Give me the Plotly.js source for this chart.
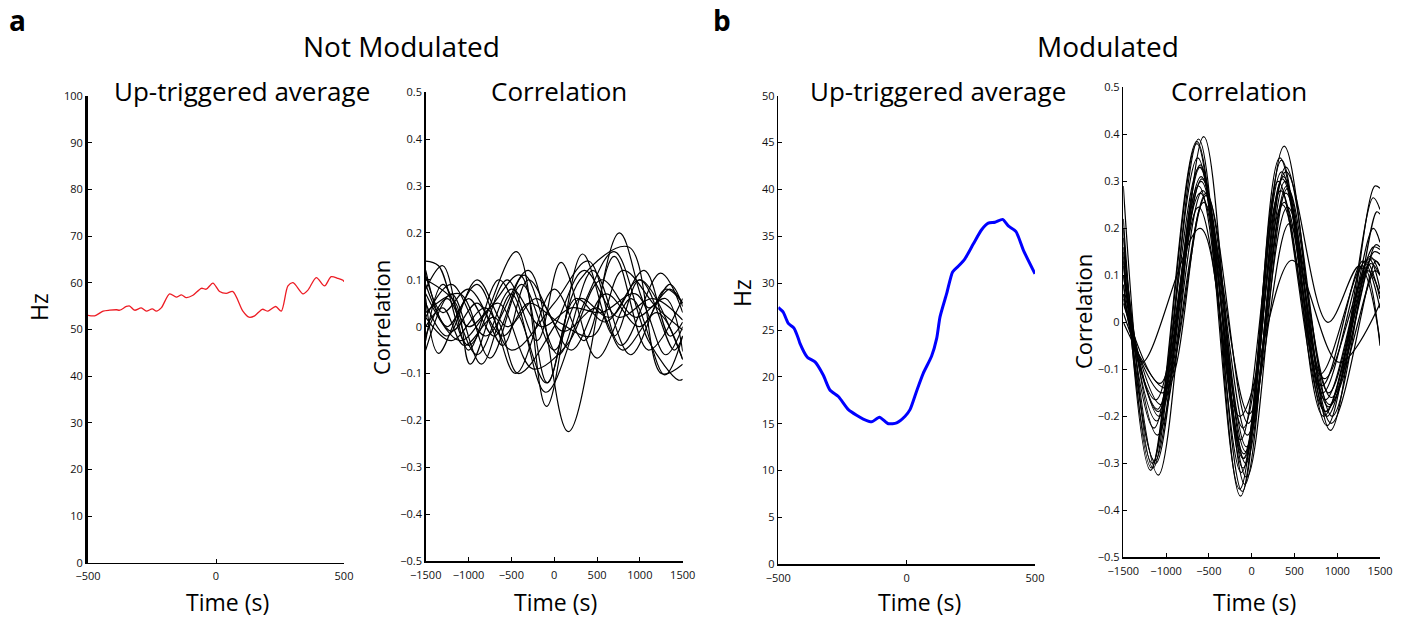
<!DOCTYPE html>
<html>
<head>
<meta charset="utf-8">
<script src="https://cdn.plot.ly/plotly-3.0.1.min.js"></script>
<style>html,body{margin:0;padding:0;background:#fff}#chart{width:1411px;height:619px}</style>
</head>
<body>
<div id="chart"></div>
<script>
// ---- Panel a, left: Up-triggered average (Not Modulated) ----
const upTimeA = [-500,-474,-441,-415,-389,-376,-350,-337,-318,-292,-272,-249,-233,-214,-181,-155,-135,-116,-90,-57,-38,-12,14,40,66,105,129,151,181,203,233,255,281,301,340,359,392,424,450,477,496,500];
const upHzA = [53.0,52.9,53.9,54.1,54.2,54.1,54.9,55.0,54.1,54.6,53.9,54.4,53.9,54.6,57.6,56.9,57.4,56.8,57.3,58.8,58.6,59.9,58.1,57.7,58.1,53.9,52.6,52.9,54.3,53.9,54.9,53.9,59.3,60.0,57.6,58.4,61.1,59.3,61.3,60.9,60.5,60.2];

// ---- Panel b, left: Up-triggered average (Modulated) ----
const upTimeB = [-500,-481,-461,-439,-422,-416,-387,-357,-325,-299,-266,-227,-195,-169,-136,-106,-71,-39,-6,13,39,65,97,117,130,156,179,201,227,260,292,318,344,374,396,426,455,500];
const upHzB = [27.4,26.9,25.7,25.2,24.1,23.6,22.1,21.6,20.2,18.6,17.9,16.5,15.9,15.5,15.2,15.7,15.0,15.1,15.8,16.5,18.5,20.4,22.2,24.1,26.4,28.9,31.2,31.8,32.6,34.2,35.7,36.4,36.5,36.8,36.1,35.5,33.5,31.0];

// ---- Panel a, right: Correlation curves (Not Modulated), extrema ----
const corrTimeA = [
  [-1500,-1200,-800,-300,165,760,1100,1350,1500],
  [-1500,-1350,-1000,-440,-90,330,700,1000,1500],
  [-1500,-1300,-1000,-650,-400,-90,300,870,1250,1500],
  [-1500,-1250,-900,-500,0,400,780,1240,1500],
  [-1500,-1200,-850,-500,-100,350,700,1100,1450,1500],
  [-1500,-1350,-1000,-700,-350,50,450,890,1300,1500],
  [-1500,-1200,-800,-450,0,350,700,1100,1500],
  [-1500,-1150,-980,-550,-200,80,500,900,1290,1500],
  [-1500,-1100,-750,-400,-80,250,600,1000,1400,1500],
  [-1500,-1250,-900,-500,-150,200,550,950,1300,1500],
  [-1500,-1100,-750,-380,0,300,650,1050,1350,1500],
  [-1500,-1300,-1000,-650,-250,150,550,950,1300,1500],
  [-1500,-1200,-900,-600,-300,100,500,800,1200,1500],
  [-1500,-1300,-1050,-700,-420,0,350,750,1150,1500],
  [-1500,-1250,-900,-550,-200,200,600,1000,1350,1500],
  [-1500,-1300,-1000,-600,-300,50,450,800,1200,1500]
];
const corrValA = [
  [0.02,0.09,-0.02,0.12,-0.224,0.20,0.04,0.08,0.05],
  [0.14,0.13,-0.04,0.16,-0.17,0.155,-0.02,0.10,-0.07],
  [0.08,0.13,-0.05,0.10,0.02,-0.12,0.10,0.17,-0.10,-0.08],
  [0.12,0.0,0.09,-0.05,0.05,0.14,-0.04,0.114,0.03],
  [-0.05,0.07,-0.08,0.07,-0.14,0.05,0.16,-0.03,-0.114,-0.112],
  [0.06,-0.057,0.06,-0.02,0.11,-0.06,0.12,-0.06,0.08,0.05],
  [0.02,-0.03,0.04,-0.10,0.08,-0.03,0.15,-0.05,0.06],
  [0.10,0.05,-0.08,0.10,-0.03,0.137,-0.067,0.06,-0.103,-0.02],
  [0.07,-0.03,0.04,0.11,-0.12,0.06,0.01,0.10,-0.05,-0.02],
  [-0.02,0.06,-0.06,0.08,0.0,0.04,0.03,0.07,-0.06,0.0],
  [0.03,0.07,-0.067,0.09,-0.05,0.06,0.02,0.12,-0.02,0.01],
  [-0.03,0.09,0.0,0.05,-0.09,-0.039,0.10,0.02,0.06,-0.053],
  [0.09,-0.01,0.05,-0.04,0.10,-0.01,0.04,-0.05,0.03,-0.07],
  [0.0,0.04,-0.04,0.02,-0.10,0.0,0.12,0.02,0.06,0.014],
  [0.05,-0.02,0.10,0.0,0.06,-0.05,0.07,0.0,0.09,0.043],
  [0.11,0.03,0.08,-0.02,0.05,0.01,-0.02,0.12,0.04,-0.007]
];

// ---- Panel b, right: Correlation curves (Modulated), extrema ----
const corrTimeB = [
  [-1500,-1150,-620,-130,380,920,1440,1500],
  [-1500,-1180,-640,-110,330,880,1420,1500],
  [-1500,-1090,-560,-80,400,940,1460,1500],
  [-1500,-1160,-630,-120,350,870,1420,1500],
  [-1500,-1130,-600,-100,370,900,1450,1500],
  [-1500,-1140,-610,-90,360,860,1380,1500],
  [-1500,-1110,-590,-70,390,830,1330,1500],
  [-1500,-1080,-580,-60,410,880,1400,1500],
  [-1500,-1100,-620,-130,340,820,1300,1500],
  [-1500,-1060,-570,-50,380,850,1350,1500],
  [-1500,-1120,-600,-100,360,800,1300,1500],
  [-1500,-1040,-530,-40,420,930,1430,1500],
  [-1500,-1000,-560,-30,440,910,1440,1500],
  [-1500,-1070,-620,-90,310,860,1390,1500],
  [-1500,-1280,-600,-140,470,1020,1500],
  [-1500,-1120,-600,-100,400,890,1260,1500],
  [-1500,-1170,-640,-140,350,840,1420,1500],
  [-1500,-1100,-530,-70,400,930,1450,1500],
  [-1500,-1090,-590,-60,420,900,1370,1500]
];
const corrValB = [
  [0.29,-0.31,0.39,-0.37,0.375,-0.23,0.29,0.285],
  [0.20,-0.315,0.385,-0.36,0.35,-0.22,0.265,0.24],
  [0.18,-0.325,0.395,-0.345,0.33,-0.20,0.235,0.23],
  [0.15,-0.30,0.35,-0.32,0.32,-0.19,0.20,0.17],
  [0.13,-0.295,0.335,-0.31,0.31,-0.18,0.165,0.16],
  [0.12,-0.225,0.33,-0.29,0.305,-0.165,0.14,0.10],
  [0.10,-0.21,0.31,-0.275,0.30,-0.15,0.13,0.05],
  [0.10,-0.20,0.305,-0.265,0.29,-0.20,0.135,0.12],
  [0.08,-0.185,0.29,-0.25,0.28,-0.135,0.13,0.03],
  [0.06,-0.175,0.28,-0.24,0.255,-0.12,0.11,0.06],
  [0.05,-0.165,0.275,-0.225,0.25,-0.11,0.12,-0.05],
  [0.02,-0.15,0.27,-0.215,0.245,-0.16,0.15,0.145],
  [0.0,-0.14,0.255,-0.195,0.21,-0.175,0.11,0.10],
  [0.04,-0.13,0.245,-0.28,0.30,-0.19,0.125,0.10],
  [0.08,-0.085,0.20,-0.20,0.132,-0.085,0.04],
  [0.14,-0.30,0.33,-0.29,0.32,0.0,0.12,-0.04],
  [0.22,-0.31,0.38,-0.355,0.345,-0.20,0.16,0.155],
  [0.16,-0.24,0.275,-0.30,0.275,-0.215,0.13,0.12],
  [0.06,-0.19,0.30,-0.33,0.285,-0.15,0.135,0.07]
];

// ---- Tick labels ----
const hzTicksA = [0,10,20,30,40,50,60,70,80,90,100];
const hzTicksB = [0,5,10,15,20,25,30,35,40,45,50];
const corrTicks = [-0.5,-0.4,-0.3,-0.2,-0.1,0,0.1,0.2,0.3,0.4,0.5];
const corrTickText = ['\u22120.5','\u22120.4','\u22120.3','\u22120.2','\u22120.1','0','0.1','0.2','0.3','0.4','0.5'];
const timeTicksShort = [-500,0,500];
const timeTicksLong = [-1500,-1000,-500,0,500,1000,1500];
const timeTextShort = ['\u2212500','0','500'];
const timeTextLong = ['\u22121500','\u22121000','\u2212500','0','500','1000','1500'];

const FONT = 'Open Sans, Lato, sans-serif';
const traces = [];
traces.push({x: upTimeA, y: upHzA, xaxis: 'x', yaxis: 'y', mode: 'lines',
  line: {color: 'rgb(237,28,36)', width: 1.3, shape: 'spline', smoothing: 0.8}, hoverinfo: 'skip'});
corrTimeA.forEach((t, i) => traces.push({x: t, y: corrValA[i], xaxis: 'x2', yaxis: 'y2', mode: 'lines',
  line: {color: '#000', width: 1.2, shape: 'spline', smoothing: 1}, hoverinfo: 'skip'}));
traces.push({x: upTimeB, y: upHzB, xaxis: 'x3', yaxis: 'y3', mode: 'lines',
  line: {color: 'rgb(0,0,255)', width: 3, shape: 'spline', smoothing: 0.6}, hoverinfo: 'skip'});
corrTimeB.forEach((t, i) => traces.push({x: t, y: corrValB[i], xaxis: 'x4', yaxis: 'y4', mode: 'lines',
  line: {color: '#000', width: 1.2, shape: 'spline', smoothing: 1}, hoverinfo: 'skip'}));

function ax(extra) {
  return Object.assign({
    showline: true, linecolor: '#000', linewidth: 1.5, mirror: false,
    ticks: 'inside', ticklen: 4, tickwidth: 1, tickcolor: '#000',
    showgrid: false, zeroline: false, fixedrange: true,
    tickfont: {family: FONT, size: 11, color: '#111'}, tickmode: 'array'
  }, extra);
}
const W = 1411, H = 619;
const dx = (a, b) => [a / W, b / W];
const dy = (top, bottom) => [1 - bottom / H, 1 - top / H];

const layout = {
  width: W, height: H, margin: {l: 0, r: 0, t: 0, b: 0},
  paper_bgcolor: '#fff', plot_bgcolor: 'rgba(0,0,0,0)', showlegend: false,
  xaxis:  ax({domain: dx(88, 344), anchor: 'y', range: [-500, 500], tickvals: timeTicksShort, ticktext: timeTextShort, ticklabelstandoff: 3}),
  yaxis:  ax({domain: dy(96, 562.7), anchor: 'x', range: [0, 100], tickvals: hzTicksA, linewidth: 3}),
  xaxis2: ax({domain: dx(425.7, 682.7), anchor: 'y2', range: [-1500, 1500], tickvals: timeTicksLong, ticktext: timeTextLong, ticklabelstandoff: 3}),
  yaxis2: ax({domain: dy(92.3, 561), anchor: 'x2', range: [-0.5, 0.5], tickvals: corrTicks, ticktext: corrTickText}),
  xaxis3: ax({domain: dx(778.3, 1035), anchor: 'y3', range: [-500, 500], tickvals: timeTicksShort, ticktext: timeTextShort, ticklabelstandoff: 3}),
  yaxis3: ax({domain: dy(95.7, 564.3), anchor: 'x3', range: [0, 50], tickvals: hzTicksB}),
  xaxis4: ax({domain: dx(1123.3, 1380), anchor: 'y4', range: [-1500, 1500], tickvals: timeTicksLong, ticktext: timeTextLong, ticklabelstandoff: 3}),
  yaxis4: ax({domain: dy(87.3, 557.3), anchor: 'x4', range: [-0.5, 0.5], tickvals: corrTicks, ticktext: corrTickText}),
  annotations: []
};
function note(text, x, y, size, opts) {
  layout.annotations.push(Object.assign({text: text, xref: 'paper', yref: 'paper', x: x / W, y: 1 - y / H,
    xanchor: 'center', yanchor: 'middle', showarrow: false,
    font: {family: FONT, size: size, color: '#000'}}, opts || {}));
}
note('<b>a</b>', 17, 20, 28);
note('<b>b</b>', 722, 20, 28);
note('Not Modulated', 401, 46, 28);
note('Modulated', 1108, 46, 28);
note('Up-triggered average', 242, 91, 26);
note('Correlation', 559, 91, 26);
note('Up-triggered average', 938, 91, 26);
note('Correlation', 1239, 91, 26);
note('Time (s)', 227.5, 602, 23);
note('Time (s)', 555, 602, 23);
note('Time (s)', 919.5, 602, 23);
note('Time (s)', 1254, 602, 23);
note('Hz', 39, 307, 23, {textangle: -90});
note('Correlation', 381, 318, 22, {textangle: -90});
note('Hz', 742, 293, 23, {textangle: -90});
note('Correlation', 1083, 312, 22, {textangle: -90});

Plotly.newPlot('chart', traces, layout, {staticPlot: true, displayModeBar: false});
</script>
</body>
</html>
